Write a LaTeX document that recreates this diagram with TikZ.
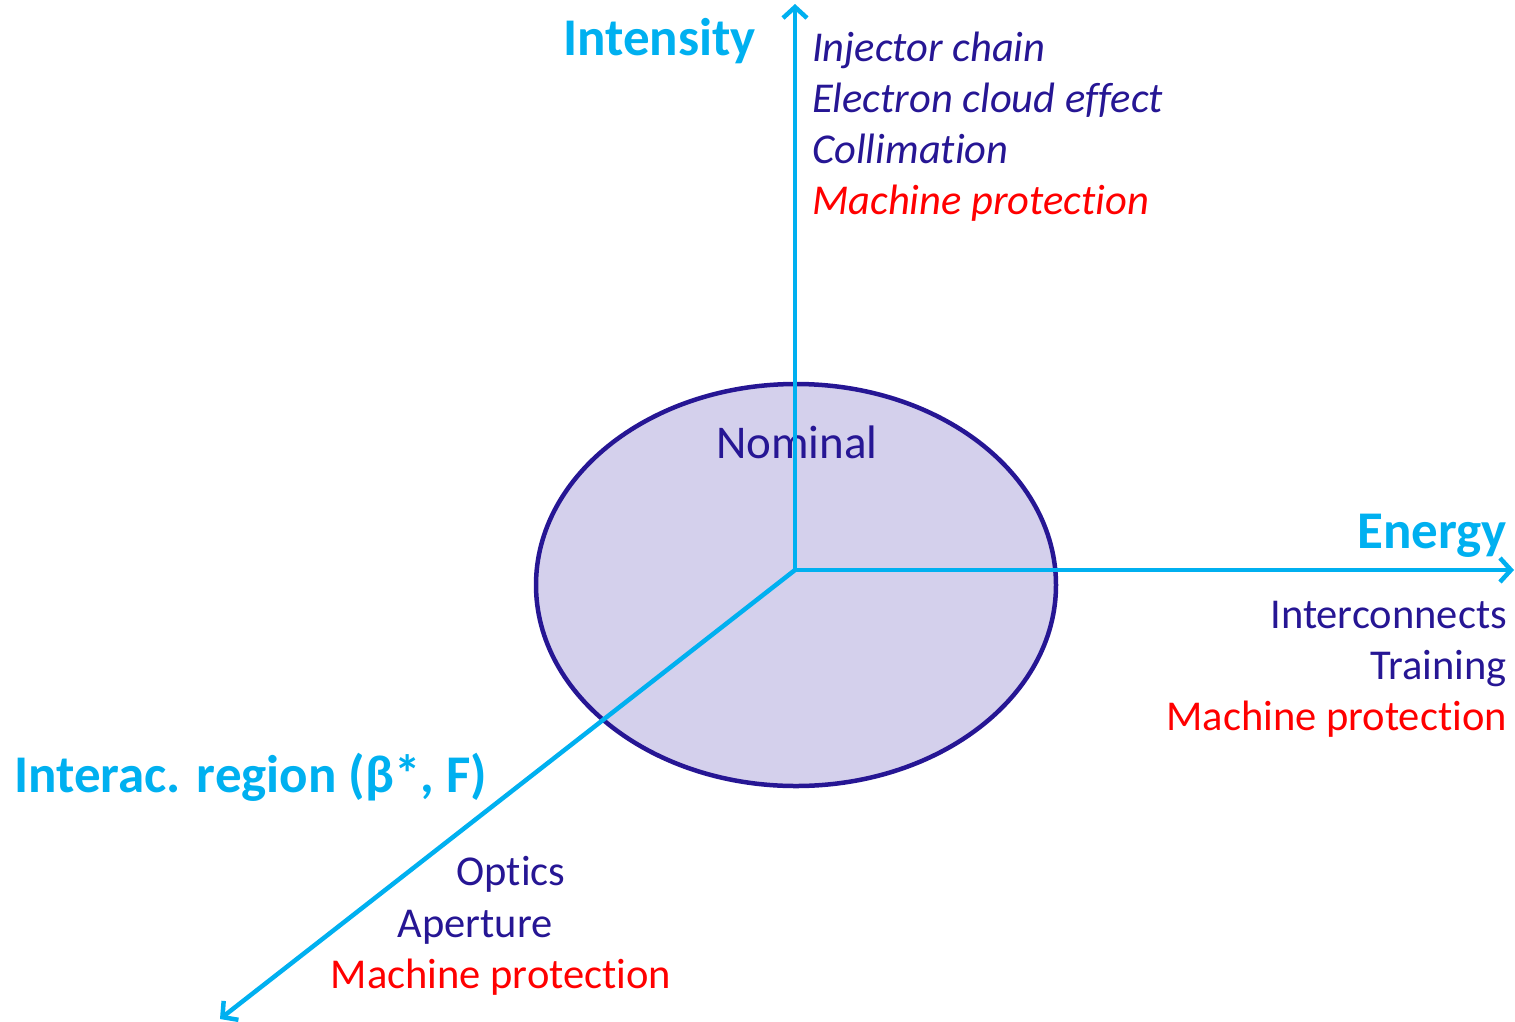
\documentclass[tikz,border=0pt]{standalone}
\usepackage{fontspec}
\setmainfont{Carlito}[Ligatures=NoCommon]
\usetikzlibrary{arrows.meta,shapes.geometric}
\definecolor{axiscyan}{HTML}{00B0F0}
\definecolor{dkblue}{RGB}{38,22,148}
\definecolor{ellfill}{RGB}{212,208,236}
\definecolor{mpred}{RGB}{255,0,0}
\tikzset{
  axis/.style={draw=axiscyan, line width=4.5pt, -{Straight Barb[length=11pt,width=24pt,line width=4.5pt]}},
  title/.style={font=\fontsize{53}{56}\selectfont\bfseries, text=axiscyan, inner sep=0pt},
  item/.style={font=\fontsize{42.5}{46}\selectfont, text=dkblue, inner sep=0pt},
  itemit/.style={item, font=\fontsize{42.5}{46}\selectfont\itshape},
}
\begin{document}
\begin{tikzpicture}[x=1pt,y=-1pt]
\useasboundingbox (0,0) rectangle (1515,1021);
\node[draw=dkblue, line width=4.5pt, fill=ellfill, ellipse, minimum width=520pt, minimum height=402pt, inner sep=0pt] (ell) at (796,585) {};
\node[item, anchor=base, font=\fontsize{47}{50}\selectfont] (nom) at (797,458) {Nominal};
\coordinate (o) at (795,570);
\coordinate (top) at (795,4);
\coordinate (right) at (1514,570);
\coordinate (diag) at (220,1019);
\draw[axis] (o) -- (top);
\draw[axis] (o) -- (right);
\draw[axis] (o) -- (diag);
% Intensity
\node[title, anchor=base west] (tint) at (563,55) {Intensity};
\node[itemit, anchor=base west] (i1) at (812,61) {Injector chain};
\node[itemit, anchor=base west] (i2) at (812,112) {Electron cloud effect};
\node[itemit, anchor=base west] (i3) at (812,163) {Collimation};
\node[itemit, anchor=base west, text=mpred] (i4) at (812,214) {Machine protection};
% Energy
\node[title, anchor=base east] (ten) at (1507,548) {Energy};
\node[item, anchor=base east] (e1) at (1507,628) {Interconnects};
\node[item, anchor=base east] (e2) at (1507,679) {Training};
\node[item, anchor=base east, text=mpred] (e3) at (1507,730) {Machine protection};
% Interaction region
\node[title, anchor=base west] (tir) at (14,792) {Interac. region (β*, F)};
\node[item, anchor=base] (r1) at (511,885) {Optics};
\node[item, anchor=base] (r2) at (475,937) {Aperture};
\node[item, anchor=base, text=mpred] (r3) at (501,988) {Machine protection};
\end{tikzpicture}
\end{document}
